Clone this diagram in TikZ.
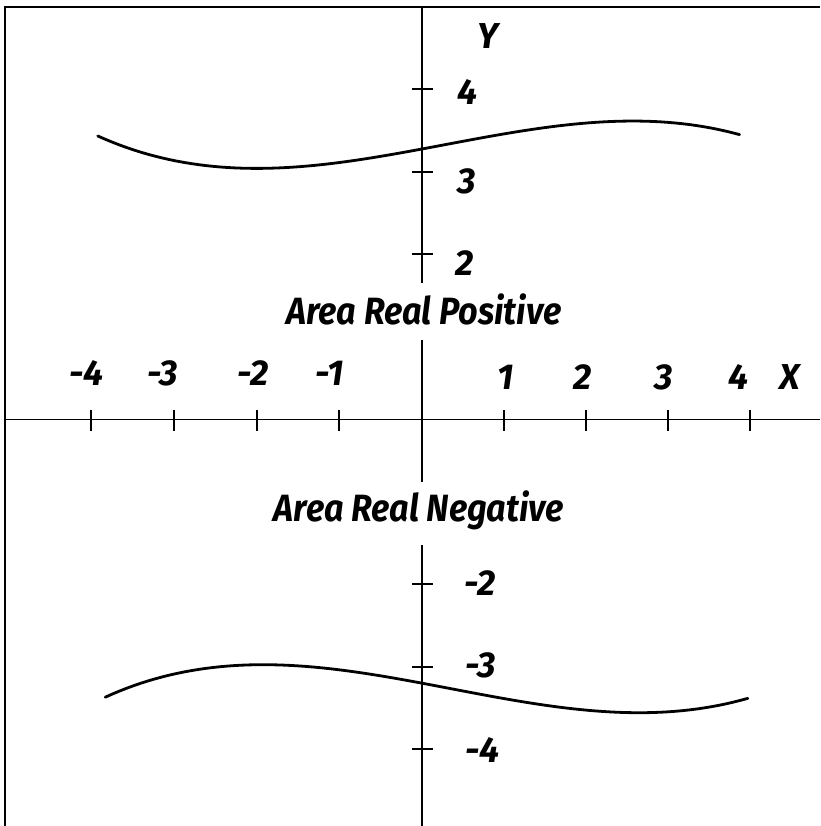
\documentclass[tikz,border=0pt]{standalone}
\usepackage{fontspec}
\setmainfont{Fira Sans}
\begin{document}
\begin{tikzpicture}[x=1pt,y=-1pt,
  lab/.style={font=\fontsize{36}{36}\selectfont\bfseries\itshape, inner sep=0pt, anchor=center},
  area/.style={font=\fontsize{38}{38}\selectfont\bfseries\itshape, inner sep=0pt, anchor=center, xscale=0.9},
  axisline/.style={line width=1.3pt},
  curveline/.style={line width=2.8pt, line cap=round, line join=round},
  tick/.style={line width=1.3pt}]
\useasboundingbox (0,0) rectangle (820,826);
% frame
\draw[line width=2pt] (5,826) -- (5,7) -- (820,7);
% axes
\coordinate (xl) at (5,419.5);
\coordinate (xr) at (820,419.5);
\draw[axisline] (xl) -- (xr);
\coordinate (ya1) at (422,7);
\coordinate (yb1) at (422,283);
\coordinate (ya2) at (422,340);
\coordinate (yb2) at (422,482);
\coordinate (ya3) at (422,545);
\coordinate (yb3) at (422,826);
\draw[axisline] (ya1) -- (yb1);
\draw[axisline] (ya2) -- (yb2);
\draw[axisline] (ya3) -- (yb3);
% x ticks
\foreach \x in {91,174,257,339,504,586,668,750}
  \draw[tick] (\x,410) -- (\x,431);
% y ticks
\foreach \y in {89,172,254,584,667,749}
  \draw[tick] (412,\y) -- (433,\y);
% curves
\draw[curveline] plot[domain=-3.93:3.85, samples=90]
  ({422+82.5*\x}, {420-82.5*(3.285+0.186*\x+0.01*\x*\x-0.0121*\x*\x*\x)});
\draw[curveline] plot[domain=-3.84:3.95, samples=90]
  ({422+82.5*\x}, {420+82.5*(3.19+0.187*\x+0.013*\x*\x-0.0123*\x*\x*\x)});
% labels
\node[lab] (ylab) at (488,36) {Y};
\node[lab] (y4) at (467,92) {4};
\node[lab] (y3) at (467,181) {3};
\node[lab] (y2) at (465,263) {2};
\node[lab] (ym2) at (480,583) {-2};
\node[lab] (ym3) at (481,665) {-3};
\node[lab] (ym4) at (482,750) {-4};
\node[lab] (xm4) at (86,373) {-4};
\node[lab] (xm3) at (163,373) {-3};
\node[lab] (xm2) at (253,373) {-2};
\node[lab] (xm1) at (330,373) {-1};
\node[lab] (x1) at (506,377) {1};
\node[lab] (x2) at (583,377) {2};
\node[lab] (x3) at (664,377) {3};
\node[lab] (x4) at (738,377) {4};
\node[lab] (xlab) at (790,377) {X};
\node[area] (pos) at (424,309) {Area Real Positive};
\node[area] (neg) at (419,510) {Area Real Negative};
\end{tikzpicture}
\end{document}
